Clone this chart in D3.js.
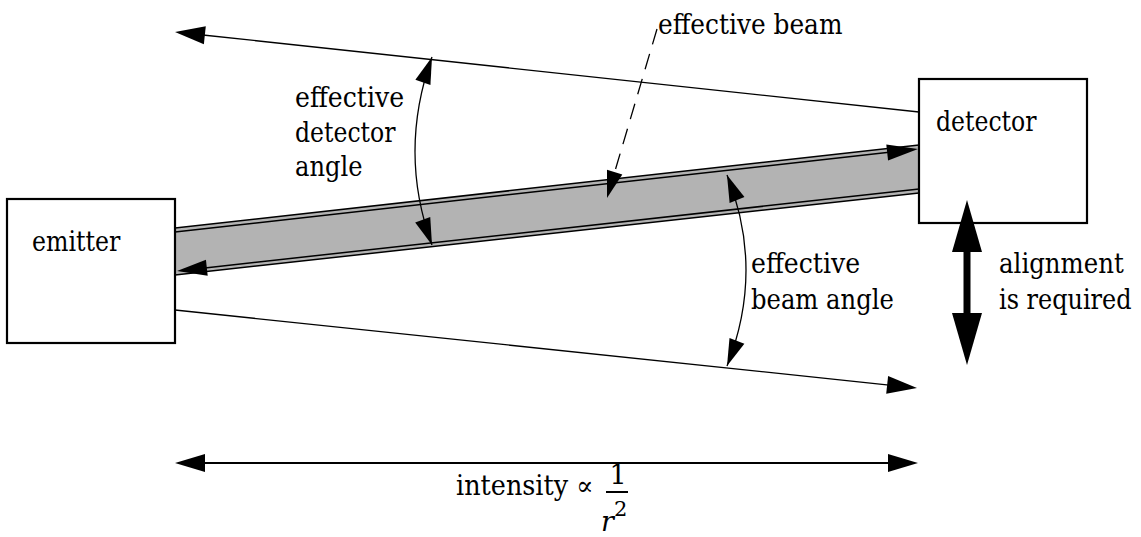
<!DOCTYPE html>
<html><head><meta charset="utf-8">
<script src="https://cdn.jsdelivr.net/npm/d3@7"></script>
<style>html,body{margin:0;padding:0;background:#fff;}svg{display:block;}
text{font-family:"DejaVu Serif","Liberation Serif","Times New Roman",Times,serif;}</style>
</head><body>
<svg id="c" width="1141" height="537"></svg>
<script>
// ---- data (diagram values) ----
const boxNames = ["emitter", "detector"];
const detectorAngleLabel = ["effective", "detector", "angle"];
const beamAngleLabel = ["effective", "beam angle"];
const alignmentLabel = ["alignment", "is required"];
const beamLabel = ["effective beam"];
const intensityLabel = ["intensity \u221D"];
const fractionParts = ["1", "r", "2"];
// relative distance from emitter face (0) to detector face (1)
const distance = [0, 1];
// vertical levels of the beam edges at emitter / detector
const beamTop = [228, 145];
const beamBottom = [275, 193];
const innerOffset = [4];
const upperRay = [32, 112];
const lowerRay = [310, 388];

// Times-Roman advance widths (per 1000 em) used to size the serif labels
const timesAdvance = {a:444,b:500,c:444,d:500,e:444,f:333,g:500,i:278,l:278,m:778,n:500,o:500,q:500,r:333,s:389,t:278,u:500,v:500,y:500," ":250,"\u221D":713};
const TIMES_SIZE = 31.2;
const FONT_SIZE = 27;
function targetWidth(s) { return d3.sum(Array.from(s), ch => timesAdvance[ch] || 500) * TIMES_SIZE / 1000; }

const svg = d3.select("#c");
const W = 1141, H = 537;
const x = d3.scaleLinear().domain(distance).range([175, 919]);
const y = d3.scaleLinear().domain([0, H]).range([0, H]);

function head(g, tip, from, len, hw, fill) {
  const dx = tip[0] - from[0], dy = tip[1] - from[1];
  const L = Math.hypot(dx, dy), ux = dx / L, uy = dy / L;
  const bx = tip[0] - ux * len, by = tip[1] - uy * len;
  const px = -uy * hw, py = ux * hw;
  g.append("path")
    .attr("d", `M${tip[0]},${tip[1]}L${bx + px},${by + py}L${bx - px},${by - py}Z`)
    .attr("fill", fill || "#000");
  return [bx, by];
}
function arrowLine(g, a, tip, sw, len, hw, dash) {
  const dx = tip[0] - a[0], dy = tip[1] - a[1];
  const L = Math.hypot(dx, dy);
  const b = [tip[0] - dx / L * (len - 2), tip[1] - dy / L * (len - 2)];
  const l = g.append("line").attr("x1", a[0]).attr("y1", a[1]).attr("x2", b[0]).attr("y2", b[1])
    .attr("stroke", "#000").attr("stroke-width", sw);
  if (dash) l.attr("stroke-dasharray", dash);
  head(g, tip, a, len, hw);
}

const g = svg.append("g");

// beam band
const poly = [[x(0), y(beamTop[0])], [x(1), y(beamTop[1])], [x(1), y(beamBottom[1])], [x(0), y(beamBottom[0])]];
g.append("path").attr("d", "M" + poly.join("L") + "Z").attr("fill", "#b3b3b3").attr("stroke", "none");
g.append("line").attr("x1", x(0)).attr("y1", y(beamTop[0])).attr("x2", x(1)).attr("y2", y(beamTop[1]))
  .attr("stroke", "#000").attr("stroke-width", 1.5);
g.append("line").attr("x1", x(0)).attr("y1", y(beamBottom[0])).attr("x2", x(1)).attr("y2", y(beamBottom[1]))
  .attr("stroke", "#000").attr("stroke-width", 1.5);
// inner beam arrows
arrowLine(g, [x(0), y(beamTop[0] + innerOffset[0])], [x(1) - 1, y(beamTop[1] + innerOffset[0])], 1.5, 31, 8);
arrowLine(g, [x(1), y(beamBottom[1] - innerOffset[0])], [x(0) + 2, y(beamBottom[0] - innerOffset[0])], 1.5, 30, 8);

// divergent rays
arrowLine(g, [x(1), y(upperRay[1])], [x(0), y(upperRay[0])], 1.3, 30, 9);
arrowLine(g, [x(0), y(lowerRay[0])], [x(1) - 2, y(lowerRay[1])], 1.3, 30, 9);

// boxes
g.append("rect").attr("x", 7).attr("y", 199).attr("width", x(0) - 7).attr("height", 144)
  .attr("fill", "#fff").attr("stroke", "#000").attr("stroke-width", 2.2);
g.append("rect").attr("x", x(1)).attr("y", 79).attr("width", 168).attr("height", 144)
  .attr("fill", "#fff").attr("stroke", "#000").attr("stroke-width", 2.2);

// curved arrows
function curvedArrow(s, c, e, len, hw) {
  const p = d3.path();
  p.moveTo(s[0], s[1]); p.quadraticCurveTo(c[0], c[1], e[0], e[1]);
  g.append("path").attr("d", p.toString()).attr("fill", "none").attr("stroke", "#000").attr("stroke-width", 1.3);
  head(g, s, c, len, hw);
  head(g, e, c, len, hw);
}
curvedArrow([432, 57], [398, 152], [432, 245], 27, 8);
curvedArrow([727, 175], [765, 270], [727, 366], 27, 8);

// dashed arrow to beam
arrowLine(g, [657, 29], [607, 198], 1.3, 27, 8, "16,10");

// intensity arrow (double headed)
(function () {
  const yy = 463, a = x(0), b = x(1) - 1;
  g.append("line").attr("x1", a + 20).attr("y1", yy).attr("x2", b - 20).attr("y2", yy)
    .attr("stroke", "#000").attr("stroke-width", 2.2);
  head(g, [a, yy], [b, yy], 30, 9);
  head(g, [b, yy], [a, yy], 30, 9);
})();

// alignment arrow (thick, double headed)
(function () {
  const xx = 967, t = 200, bt = 365;
  g.append("line").attr("x1", xx).attr("y1", t + 45).attr("x2", xx).attr("y2", bt - 45)
    .attr("stroke", "#000").attr("stroke-width", 7);
  head(g, [xx, t], [xx, bt], 52, 15);
  head(g, [xx, bt], [xx, t], 52, 15);
})();

// text: horizontally scaled so the serif labels keep the reference widths
function lines(arr, x0, y0, dy) {
  arr.forEach((s, i) => {
    const t = g.append("text").attr("font-size", FONT_SIZE).attr("fill", "#000")
      .attr("x", 0).attr("y", 0).text(s);
    const natural = t.node().getComputedTextLength() || 1;
    const k = targetWidth(s) / natural;
    t.attr("transform", `translate(${x0},${y0 + i * dy}) scale(${k},1)`);
  });
}
lines([boxNames[0]], 32, 251, 0);
lines([boxNames[1]], 936, 131, 0);
lines(beamLabel, 658, 34, 0);
lines(detectorAngleLabel, 295, 107, 34.5);
lines(beamAngleLabel, 751, 273, 36);
lines(alignmentLabel, 999, 273, 36);
lines(intensityLabel, 456, 495, 0);

// fraction 1 / r^2
g.append("text").attr("font-size", FONT_SIZE).attr("text-anchor", "middle")
  .attr("x", 618).attr("y", 484).text(fractionParts[0]);
g.append("line").attr("x1", 606).attr("x2", 628).attr("y1", 492).attr("y2", 492)
  .attr("stroke", "#000").attr("stroke-width", 2);
g.append("text").attr("font-size", FONT_SIZE).attr("font-style", "italic")
  .attr("x", 601).attr("y", 531).text(fractionParts[1]);
g.append("text").attr("font-size", 21)
  .attr("x", 614).attr("y", 516).text(fractionParts[2]);
</script>
</body></html>
